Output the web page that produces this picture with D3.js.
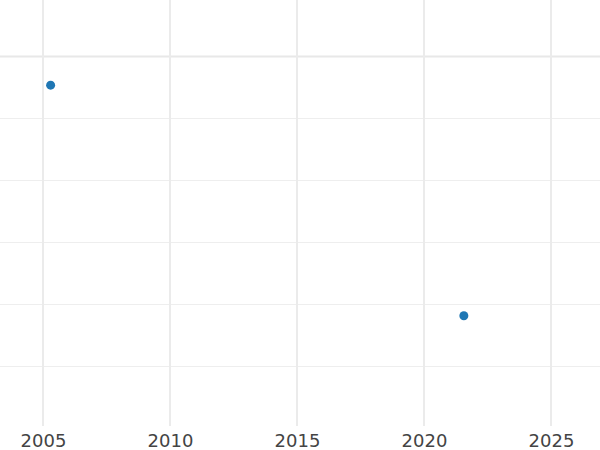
<!DOCTYPE html>
<html>
<head>
<meta charset="utf-8">
<script src="https://cdn.jsdelivr.net/npm/d3@7"></script>
<style>
  body { margin: 0; background: #fff; }
  svg { display: block; font-family: "DejaVu Sans", sans-serif; }
</style>
</head>
<body>
<div id="chart"></div>
<script>
// data
const years = [2005.3, 2021.57];
const values = [-0.47, -4.19];
const xTicks = [2005, 2010, 2015, 2020, 2025];
const yTicks = [0, -1, -2, -3, -4, -5];

const w = 600;
const h = 450;
const plotBottom = 426;

const svg = d3.select("#chart")
    .append("svg")
    .attr("width", w)
    .attr("height", h);

const x = d3.scaleLinear()
    .domain([2003.307, 2026.93])
    .range([0, w]);

const y = d3.scaleLinear()
    .domain([0.903, -5.968])
    .range([0, plotBottom]);

// horizontal grid
svg.append("g")
    .selectAll("line")
    .data(yTicks)
    .enter()
    .append("line")
    .attr("x1", 0)
    .attr("x2", w)
    .attr("y1", d => Math.round(y(d)) + 0.5)
    .attr("y2", d => Math.round(y(d)) + 0.5)
    .attr("stroke", d => d === 0 ? "#e8e8e8" : "#eeeeee")
    .attr("stroke-width", d => d === 0 ? 2 : 1);

// vertical grid
svg.append("g")
    .selectAll("line")
    .data(xTicks)
    .enter()
    .append("line")
    .attr("x1", d => Math.round(x(d)))
    .attr("x2", d => Math.round(x(d)))
    .attr("y1", 0)
    .attr("y2", plotBottom)
    .attr("stroke", "#ebebeb")
    .attr("stroke-width", 2);

// x axis labels
const xAxis = svg.append("g")
    .attr("transform", `translate(0,${plotBottom})`)
    .call(d3.axisBottom(x).tickValues(xTicks).tickFormat(d3.format("d")).tickSize(0).tickPadding(8));
xAxis.select(".domain").remove();
xAxis.selectAll("text")
    .attr("font-size", "18px")
    .attr("font-family", "DejaVu Sans, sans-serif")
    .attr("fill", "#444");

// points
svg.append("g")
    .selectAll("circle")
    .data(years)
    .enter()
    .append("circle")
    .attr("cx", d => x(d))
    .attr("cy", (d, i) => y(values[i]))
    .attr("r", 4.5)
    .attr("fill", "#1f77b4");
</script>
</body>
</html>
